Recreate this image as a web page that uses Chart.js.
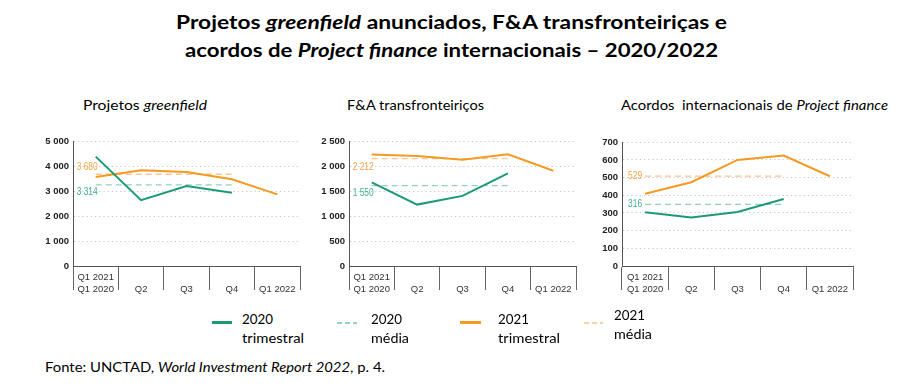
<!DOCTYPE html>
<html><head><meta charset="utf-8">
<script src="https://cdn.jsdelivr.net/npm/chart.js@4.4.1/dist/chart.umd.min.js"></script>
<style>
html,body{margin:0;padding:0;background:#fff;}
body{width:904px;height:387px;position:relative;overflow:hidden;font-family:Lato,"Open Sans",sans-serif;color:#000;}
.t{position:absolute;white-space:nowrap;transform-origin:0 50%;line-height:1;}
.cv{position:absolute;}
.sw{position:absolute;}
</style></head><body>
<div class="t fit" data-w="551" style="left:176px;top:12px;font-size:19.5px;font-weight:bold;">Projetos <i>greenfield</i> anunciados, F&amp;A transfronteiriças e</div>
<div class="t fit" data-w="533" style="left:185px;top:40px;font-size:19.5px;font-weight:bold;">acordos de <i>Project finance</i> internacionais – 2020/2022</div>

<div class="t fit" data-w="124" style="left:83px;top:99px;font-size:13.5px;">Projetos <i>greenfield</i></div>
<div class="t fit" data-w="137" style="left:347px;top:99px;font-size:13.5px;">F&amp;A transfronteiriços</div>
<div class="t fit" data-w="267" style="left:621px;top:99px;font-size:13.5px;">Acordos&nbsp; internacionais de <i>Project finance</i></div>

<canvas id="c1" class="cv" width="280" height="170" style="left:30px;top:130px;"></canvas>
<canvas id="c2" class="cv" width="280" height="170" style="left:305px;top:130px;"></canvas>
<canvas id="c3" class="cv" width="285" height="170" style="left:580px;top:130px;"></canvas>

<div class="sw" style="left:212px;top:321px;width:20px;height:2.5px;background:#1b9a78;"></div>
<div class="t fit" data-w="31" style="left:242px;top:312px;font-size:14px;">2020</div>
<div class="t fit" data-w="62" style="left:242px;top:331px;font-size:14px;">trimestral</div>

<div class="sw" style="left:337px;top:322px;width:20px;height:1.5px;background:repeating-linear-gradient(to right,#93d3bf 0 5px,transparent 5px 8px);"></div>
<div class="t fit" data-w="31" style="left:371px;top:312px;font-size:14px;">2020</div>
<div class="t fit" data-w="38" style="left:371px;top:331px;font-size:14px;">média</div>

<div class="sw" style="left:460px;top:321px;width:21px;height:2.5px;background:#f39a22;"></div>
<div class="t fit" data-w="31" style="left:498px;top:312px;font-size:14px;">2021</div>
<div class="t fit" data-w="62" style="left:498px;top:331px;font-size:14px;">trimestral</div>

<div class="sw" style="left:584px;top:322px;width:19px;height:1.5px;background:repeating-linear-gradient(to right,#fbcfa6 0 5px,transparent 5px 8px);"></div>
<div class="t fit" data-w="31" style="left:614px;top:308px;font-size:14px;">2021</div>
<div class="t fit" data-w="38" style="left:614px;top:327px;font-size:14px;">média</div>

<div class="t fit" data-w="340" style="left:45px;top:361px;font-size:13px;">Fonte: UNCTAD, <i>World Investment Report 2022</i>, p. 4.</div>

<script>
// ---- data ----
const categories = [["Q1 2021","Q1 2020"],["","Q2"],["","Q3"],["","Q4"],["","Q1 2022"]];
const greenfield2020 = [4400, 2650, 3220, 2950, null];
const greenfield2021 = [3580, 3850, 3780, 3490, 2880];
const fa2020 = [1680, 1235, 1410, 1865, null];
const fa2021 = [2245, 2212, 2138, 2245, 1917];
const pf2020 = [304, 274, 306, 379, null];
const pf2021 = [409, 474, 600, 625, 508];
const avg2020 = [3260, 1615, 349];
const avg2021 = [3690, 2158, 509];
const avgLabel2020 = ["3 314", "1 550", "316"];
const avgLabel2021 = ["3 680", "2 212", "529"];
const yMax = [5000, 2500, 700];
const yStep = [1000, 500, 100];

// ---- styles ----
const GREEN = '#1b9a78', ORANGE = '#f39a22';
const GREEN_D = '#8fd1bd', ORANGE_D = '#f8c593';
const GREEN_T = '#3fb08e', ORANGE_T = '#f3a449';

function fmt(v){ return String(v).replace(/\B(?=(\d{3})+(?!\d))/g, ' '); }

const avgLabelPlugin = {
  id: 'avgLabels',
  afterDatasetsDraw(chart, args, opts) {
    const ctx = chart.ctx;
    const x0 = chart.scales.x.getPixelForValue(0) + opts.dx;
    const sx = 0.8;
    ctx.save();
    ctx.font = '10.5px "Liberation Sans", Arial, sans-serif';
    ctx.textAlign = 'right';
    ctx.textBaseline = 'middle';
    opts.items.forEach(it => {
      const y = chart.scales.y.getPixelForValue(it.value) + it.dy;
      ctx.save();
      ctx.translate(x0, y);
      ctx.scale(sx, 1);
      ctx.fillStyle = it.color;
      ctx.fillText(it.text, 0, 0);
      ctx.restore();
    });
    ctx.restore();
  }
};

function makeChart(id, i, s2020, s2021, yW, padTop, padRight, lab) {
  const a20 = categories.map((c, k) => k < 4 ? avg2020[i] : null);
  const a21 = categories.map((c, k) => k < 4 ? avg2021[i] : null);
  return new Chart(document.getElementById(id), {
    type: 'line',
    data: {
      labels: categories,
      datasets: [
        {data: s2020, borderColor: GREEN, borderWidth: 2, pointRadius: 0, order: 0},
        {data: s2021, borderColor: ORANGE, borderWidth: 2, pointRadius: 0, order: 0},
        {data: a20, borderColor: GREEN_D, borderWidth: 1.3, borderDash: [6, 4], pointRadius: 0, order: 1},
        {data: a21, borderColor: ORANGE_D, borderWidth: 1.3, borderDash: [6, 4], pointRadius: 0, order: 1}
      ]
    },
    options: {
      responsive: false, animation: false, devicePixelRatio: 1,
      layout: {padding: {top: padTop, right: padRight, left: 0, bottom: 0}},
      plugins: {legend: {display: false}, tooltip: {enabled: false},
        avgLabels: {dx: lab.dx, items: [
          {value: avg2021[i], text: avgLabel2021[i], color: ORANGE_T, dy: lab.dy21},
          {value: avg2020[i], text: avgLabel2020[i], color: GREEN_T, dy: lab.dy20}
        ]}},
      scales: {
        x: {
          offset: true,
          grid: {offset: true, drawOnChartArea: false, drawTicks: true, tickLength: 24, color: '#666', lineWidth: 1},
          border: {display: true, color: '#555', width: 1},
          ticks: {autoSkip: false, maxRotation: 0, padding: -18, color: '#333',
                  font: {family: '"Liberation Sans", Arial, sans-serif', size: 9.5}},
          afterFit(scale) { scale.height = 34; }
        },
        y: {
          min: 0, max: yMax[i],
          grid: {drawTicks: false, lineWidth: 1,
                 color: c => (c.tick && c.tick.value === 0) ? 'rgba(0,0,0,0)' : '#c4c4c4'},
          border: {display: true, color: '#555', width: 1, dash: [1.2, 3]},
          ticks: {stepSize: yStep[i], padding: 4, color: '#222', callback: v => fmt(v),
                  font: {family: '"Liberation Sans", Arial, sans-serif', size: 9.5, weight: 'bold'}},
          afterFit(scale) { scale.width = yW; }
        }
      }
    },
    plugins: [avgLabelPlugin]
  });
}

makeChart('c1', 0, greenfield2020, greenfield2021, 43, 11.7, 10, {dx: 2, dy21: -7, dy20: 7});
makeChart('c2', 1, fa2020, fa2021, 44, 11.7, 9, {dx: 2, dy21: 8, dy20: 7});
makeChart('c3', 2, pf2020, pf2021, 42, 12.3, 12, {dx: -3, dy21: 0, dy20: 0});

document.querySelectorAll('.fit').forEach(el => {
  const w = el.getBoundingClientRect().width;
  const target = parseFloat(el.dataset.w);
  if (w > 0) el.style.transform = 'scaleX(' + (target / w) + ')';
});
</script>
</body></html>
